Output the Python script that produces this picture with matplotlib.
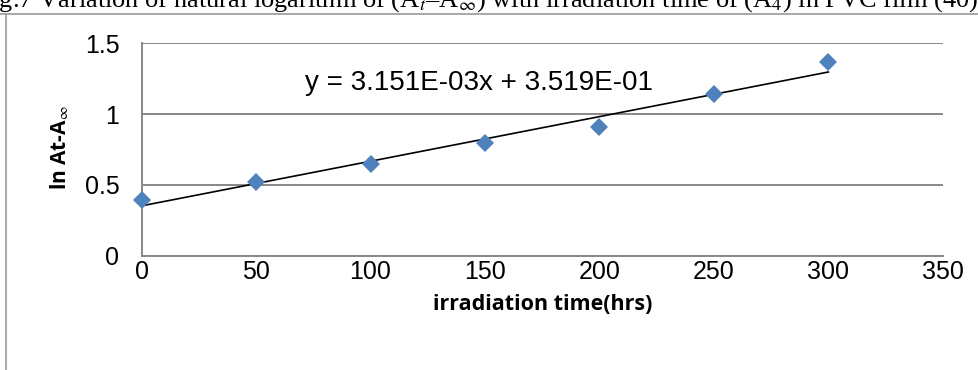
import matplotlib
matplotlib.use("Agg")
import matplotlib.pyplot as plt
from matplotlib.lines import Line2D

# ── data ────
hours = [0, 50, 100, 150, 200, 250, 300]
ln_abs = [0.393, 0.518, 0.650, 0.798, 0.911, 1.140, 1.366]
slope = 3.151e-03
intercept = 3.519e-01
x_ticks = [0, 50, 100, 150, 200, 250, 300, 350]
y_ticks = [0, 0.5, 1, 1.5]
y_tick_labels = ["0", "0.5", "1", "1.5"]

# ── colours ────
BLUE = "#4F81BD"
GRID = "#888888"
FRAME = "#999999"

plt.rcParams["mathtext.fontset"] = "stix"

fig = plt.figure(figsize=(9.79, 3.70), dpi=100)
ax = fig.add_axes([0.1447, 0.309, 0.8183, 0.574])

# trendline from the equation, over the data range
x0, x1 = hours[0], hours[-1]
ax.plot([x0, x1], [slope * x0 + intercept, slope * x1 + intercept],
        color="black", linewidth=1.2, zorder=3)
ax.plot(hours, ln_abs, linestyle="none", marker="D", markersize=9.2,
        color=BLUE, markeredgewidth=0, zorder=4, clip_on=False)

ax.set_xlim(0, 350)
ax.set_ylim(0, 1.5)
ax.set_xticks(x_ticks)
ax.set_yticks(y_ticks)
ax.set_yticklabels(y_tick_labels)
ax.tick_params(length=0, labelsize=18)
ax.tick_params(axis="x", pad=3)
ax.tick_params(axis="y", pad=16)
for lbl in ax.get_xticklabels() + ax.get_yticklabels():
    lbl.set_family("Liberation Sans")

ax.grid(axis="y", color=GRID, linewidth=1.4)
ax.set_axisbelow(True)
for side in ["top", "right"]:
    ax.spines[side].set_visible(False)
for side in ["left", "bottom"]:
    ax.spines[side].set_color(GRID)
    ax.spines[side].set_linewidth(1.4)

ax.text(0.421, 0.812, "y = 3.151E-03x + 3.519E-01", transform=ax.transAxes,
        ha="center", va="center", fontsize=20, family="Liberation Sans")

ax.set_xlabel("irradiation time(hrs)", fontsize=15.5, fontweight="bold",
              family="Open Sans", labelpad=7)
fig.text(0.061, 0.60, r"ln At-A$_{\infty}$", rotation=90, ha="center",
         va="center", fontsize=15, fontweight="bold", family="Open Sans")

# caption cut off by the page crop, plus the frame lines
fig.text(-0.024, 0.962,
         r"Fig.7 Variation of natural logarithm of (A$_t$–A$_\infty$) with "
         r"irradiation time of (A$_4$) in PVC film (40)",
         ha="left", va="bottom", fontsize=19, family="Liberation Serif")
fig.add_artist(Line2D([0.0, 1.0], [0.962, 0.962], color=FRAME, linewidth=1.2))
fig.add_artist(Line2D([0.006, 0.006], [0.0, 0.962], color=FRAME, linewidth=1.2))

fig.savefig("out.png", dpi=100)
